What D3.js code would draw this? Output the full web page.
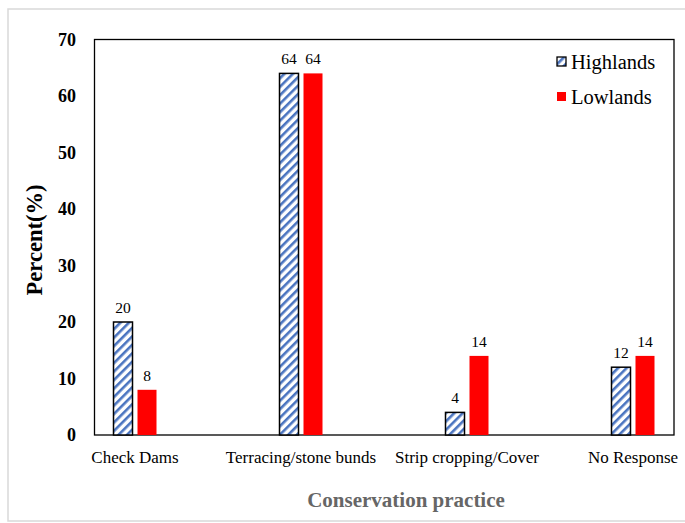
<!DOCTYPE html>
<html><head><meta charset="utf-8">
<script src="https://cdn.jsdelivr.net/npm/d3@7"></script>
<style>body{margin:0;background:#fff}svg{display:block}</style>
</head><body>
<svg id="chart" width="685" height="523"></svg>
<script>
const categories = ["Check Dams", "Terracing/stone bunds", "Strip cropping/Cover", "No Response"];
const highlands = [20, 64, 4, 12];
const lowlands = [8, 64, 14, 14];
const seriesNames = ["Highlands", "Lowlands"];
const yTicks = [0, 10, 20, 30, 40, 50, 60, 70];

const svg = d3.select("#chart");
const font = "'Liberation Serif','Times New Roman',serif";

// outer frame
svg.append("rect").attr("x", 8).attr("y", 9).attr("width", 690).attr("height", 512)
  .attr("fill", "none").attr("stroke", "#d9d9d9").attr("stroke-width", 1.5);

const plot = {left: 94.5, right: 674, top: 39.5, bottom: 435};
const y = d3.scaleLinear().domain([0, 70]).range([plot.bottom, plot.top]);
const x = d3.scaleBand().domain(categories).range([52, 716]).paddingInner(0).paddingOuter(0);
const barW = 19, gap = 5;

const defs = svg.append("defs");
const pat = defs.append("pattern").attr("id", "hatch").attr("patternUnits", "userSpaceOnUse")
  .attr("width", 6).attr("height", 6).attr("patternTransform", "rotate(45)");
pat.append("rect").attr("width", 6).attr("height", 6).attr("fill", "#fff");
pat.append("rect").attr("x", 0).attr("width", 2.6).attr("height", 6).attr("fill", "#4a74c0");

// plot box
svg.append("rect").attr("x", plot.left).attr("y", plot.top)
  .attr("width", plot.right - plot.left).attr("height", plot.bottom - plot.top)
  .attr("fill", "none").attr("stroke", "#000").attr("stroke-width", 1.3);

// y axis labels
svg.append("g").selectAll("text").data(yTicks).join("text")
  .attr("x", 76).attr("y", d => y(d)).attr("dy", "0.35em")
  .attr("text-anchor", "end").attr("font-family", font).attr("font-weight", "bold")
  .attr("font-size", 18).attr("fill", "#000").text(d => d);

const data = categories.map((c, i) => ({c, h: highlands[i], l: lowlands[i]}));
const cx = c => x(c) + x.bandwidth() / 2;

// highlands bars
svg.append("g").selectAll("rect").data(data).join("rect")
  .attr("x", d => cx(d.c) - gap / 2 - barW).attr("y", d => y(d.h))
  .attr("width", barW).attr("height", d => y(0) - y(d.h))
  .attr("fill", "url(#hatch)").attr("stroke", "#000").attr("stroke-width", 1.5);
// lowlands bars
svg.append("g").selectAll("rect").data(data).join("rect")
  .attr("x", d => cx(d.c) + gap / 2).attr("y", d => y(d.l))
  .attr("width", barW).attr("height", d => y(0) - y(d.l))
  .attr("fill", "#ff0000");

// value labels
const vl = svg.append("g").attr("font-family", font).attr("font-size", 15.5).attr("text-anchor", "middle");
vl.selectAll("text.h").data(data).join("text").attr("class", "h")
  .attr("x", d => cx(d.c) - gap / 2 - barW / 2).attr("y", d => y(d.h) - 9).text(d => d.h);
vl.selectAll("text.l").data(data).join("text").attr("class", "l")
  .attr("x", d => cx(d.c) + gap / 2 + barW / 2).attr("y", d => y(d.l) - 9).text(d => d.l);

// category labels
svg.append("g").selectAll("text").data(categories).join("text")
  .attr("x", d => cx(d)).attr("y", 463).attr("text-anchor", "middle")
  .attr("font-family", font).attr("font-size", 17).attr("fill", "#000").text(d => d);

// axis titles
svg.append("text").attr("transform", "translate(42,240) rotate(-90)")
  .attr("text-anchor", "middle").attr("font-family", font).attr("font-weight", "bold")
  .attr("font-size", 22.5).attr("fill", "#000").text("Percent(%)");
svg.append("text").attr("x", 406).attr("y", 507).attr("text-anchor", "middle")
  .attr("font-family", font).attr("font-weight", "bold").attr("font-size", 21)
  .attr("fill", "#666").text("Conservation practice");

// legend
const lg = svg.append("g");
const legY = [61.5, 96.5];
lg.selectAll("rect").data(seriesNames).join("rect")
  .attr("x", 557).attr("y", (d, i) => legY[i] - 4.5).attr("width", 9).attr("height", 9)
  .attr("fill", (d, i) => i === 0 ? "url(#hatch)" : "#ff0000")
  .attr("stroke", (d, i) => i === 0 ? "#000" : "none").attr("stroke-width", 1.3);
lg.selectAll("text").data(seriesNames).join("text")
  .attr("x", 571).attr("y", (d, i) => legY[i]).attr("dy", "0.35em")
  .attr("font-family", font).attr("font-size", 20.5).attr("fill", "#000").text(d => d);
</script>
</body></html>
